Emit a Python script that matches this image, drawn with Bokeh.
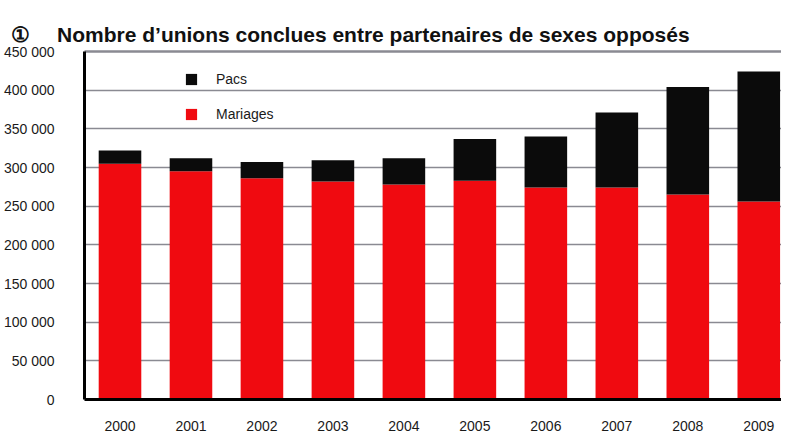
from bokeh.plotting import figure
from bokeh.models import (ColumnDataSource, FixedTicker, LinearAxis, Legend, LegendItem,
                          Range1d)
from bokeh.embed import file_html
from bokeh.resources import INLINE

years = ["2000", "2001", "2002", "2003", "2004", "2005", "2006", "2007", "2008", "2009"]
mariages = [305000, 295000, 286000, 282000, 278000, 283000, 274000, 274000, 265000, 256000]
pacs = [17000, 17000, 21000, 27500, 34000, 54000, 66000, 97000, 139000, 168000]
y_ticks = [0, 50000, 100000, 150000, 200000, 250000, 300000, 350000, 400000, 450000]
y_labels = ["0", "50 000", "100 000", "150 000", "200 000", "250 000",
            "300 000", "350 000", "400 000", "450 000"]
title_text = "\u2460" + "\u00a0" * 4 + "\u2009" + "Nombre d\u2019unions conclues entre partenaires de sexes oppos\u00e9s"

RED = "#f00a10"
BLACK = "#0b0b0b"
GRID = "#8a8a92"
FONT = "Liberation Sans"

xpos = [i + 0.5 for i in range(len(years))]
src = ColumnDataSource(dict(x=xpos, year=years, mariages=mariages, pacs=pacs))

p = figure(width=781, height=433, output_backend="svg", toolbar_location=None,
           x_range=Range1d(0, 9.82), y_range=Range1d(0, 450000),
           min_border_left=76, min_border_right=0, min_border_top=51, min_border_bottom=34)
p.outline_line_color = None
p.background_fill_color = "white"

p.title.text = title_text
p.title.text_font = FONT
p.title.text_font_size = "21px"
p.title.text_font_style = "bold"
p.title.text_color = "#111111"
p.title.align = "left"
p.title.offset = -74
p.title.standoff = 11

rs = p.vbar_stack(["mariages", "pacs"], x="x", width=0.6, source=src,
                  color=[RED, BLACK], line_color=None)

# axes
p.yaxis.ticker = FixedTicker(ticks=y_ticks)
p.yaxis.major_label_overrides = {t: l for t, l in zip(y_ticks, y_labels)}
p.xaxis.ticker = FixedTicker(ticks=xpos)
p.xaxis.major_label_overrides = {x: y for x, y in zip(xpos, years)}
for ax in (p.xaxis[0], p.yaxis[0]):
    ax.axis_line_color = "black"
    ax.axis_line_width = 3
    ax.major_tick_line_color = None
    ax.minor_tick_line_color = None
    ax.major_label_text_font = FONT
    ax.major_label_text_font_size = "14px"
    ax.major_label_text_color = "#1a1a1a"
p.yaxis.major_label_standoff = 24
p.xaxis.major_label_standoff = 15

top = LinearAxis(ticker=FixedTicker(ticks=[]), axis_line_color=GRID, axis_line_width=2.5,
                 major_tick_line_color=None, minor_tick_line_color=None)
p.add_layout(top, "above")

p.xgrid.grid_line_color = None
p.ygrid.ticker = FixedTicker(ticks=y_ticks)
p.ygrid.grid_line_color = GRID
p.ygrid.grid_line_width = 1.5

legend = Legend(items=[LegendItem(label="Pacs", renderers=[rs[1]]),
                       LegendItem(label="Mariages", renderers=[rs[0]])],
                location=(100, 277), orientation="vertical",
                glyph_width=14, glyph_height=14, label_height=14, spacing=19,
                label_standoff=18, padding=0, margin=0,
                border_line_color=None, background_fill_alpha=0,
                label_text_font=FONT, label_text_font_size="14px",
                label_text_color="#1a1a1a")
p.add_layout(legend, "center")

open("out.html", "w").write(file_html(p, INLINE))
